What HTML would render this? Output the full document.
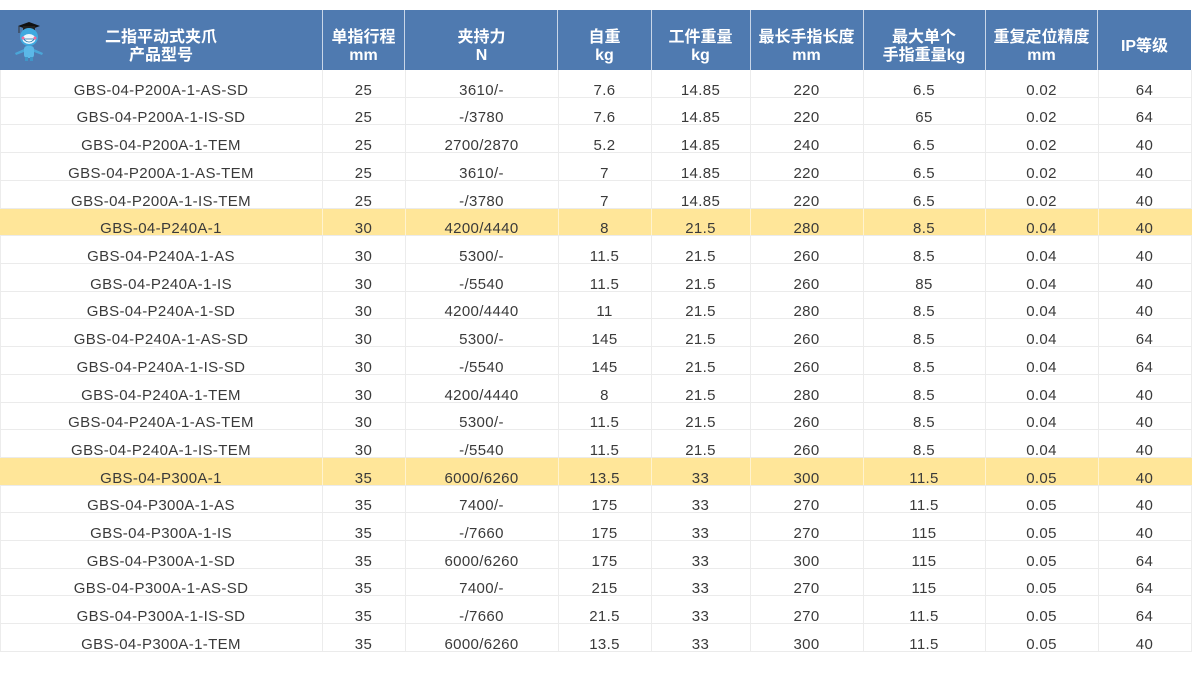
<!DOCTYPE html>
<html><head><meta charset="utf-8">
<style>
*{margin:0;padding:0;box-sizing:border-box}
html,body{width:1194px;height:685px;background:#fff;overflow:hidden}
body{position:relative;font-family:"Liberation Sans","Noto Sans CJK SC",sans-serif}
.hdr{position:absolute;top:10px;left:0;width:1191px;height:60px;background:#4f7ab0}
.hc{position:absolute;top:10px;height:60px;display:flex;align-items:center;justify-content:center;padding-top:14px;color:#fff;font-weight:700;font-size:16px;line-height:18px;text-align:center;font-family:"Liberation Sans","Noto Sans CJK SC",sans-serif}
.vl{position:absolute;width:1px}
.g{top:70px;height:582px;background:#ececec}
.hv{top:10px;height:60px;background:#c9d6e8}
.row{position:absolute;left:0;width:1192px;height:27.71px;border-bottom:1px solid #ebebeb}
.row.y{background:#ffe699}
.row.y i{position:absolute;top:0;height:100%;width:1px;background:#fff3cf}
.row span{position:absolute;bottom:-2px;line-height:16px;text-align:center;font-size:15px;color:#3a3a3a;letter-spacing:0.35px;white-space:nowrap}
.c0{left:0;width:322px}.c1{left:322px;width:83px}.c2{left:405px;width:153px}.c3{left:558px;width:93px}.c4{left:651px;width:99px}.c5{left:750px;width:113px}.c6{left:863px;width:122px}.c7{left:985px;width:113px}.c8{left:1098px;width:93px}
</style></head><body>
<div class="hdr"></div>
<div class="vl hv" style="left:322px"></div>
<div class="vl hv" style="left:404px"></div>
<div class="vl hv" style="left:557px"></div>
<div class="vl hv" style="left:651px"></div>
<div class="vl hv" style="left:750px"></div>
<div class="vl hv" style="left:863px"></div>
<div class="vl hv" style="left:985px"></div>
<div class="vl hv" style="left:1097px"></div>

<svg style="position:absolute;left:10px;top:20px" width="38" height="42" viewBox="0 0 38 42">
  <polygon points="8,6 19,2 30,6 19,10" fill="#111"/>
  <rect x="13" y="6" width="12" height="4" fill="#222"/>
  <line x1="9" y1="6" x2="9" y2="13" stroke="#333" stroke-width="1"/>
  <circle cx="19" cy="17" r="9" fill="#3fa9e0"/>
  <ellipse cx="19" cy="19" rx="6.5" ry="5" fill="#e8f6ff"/>
  <path d="M13.5 19 Q19 25 24.5 19 Z" fill="#fff" stroke="#1c6fa8" stroke-width="0.8"/>
  <circle cx="13" cy="18" r="1.5" fill="#f06a9a"/>
  <circle cx="25" cy="18" r="1.5" fill="#f06a9a"/>
  <rect x="14" y="26" width="10" height="12" rx="3" fill="#5bb8e8"/>
  <path d="M14 29 L5 33 L6 35 L14 32 Z" fill="#4aa6d8"/>
  <path d="M24 29 L33 33 L32 35 L24 32 Z" fill="#4aa6d8"/>
  <rect x="15" y="37" width="3" height="4" fill="#3f96c8"/>
  <rect x="20" y="37" width="3" height="4" fill="#3f96c8"/>
</svg>

<div class="hc" style="left:0;width:322px">二指平动式夹爪<br>产品型号</div>
<div class="hc" style="left:322px;width:83px">单指行程<br>mm</div>
<div class="hc" style="left:405px;width:153px">夹持力<br>N</div>
<div class="hc" style="left:558px;width:93px">自重<br>kg</div>
<div class="hc" style="left:651px;width:99px">工件重量<br>kg</div>
<div class="hc" style="left:750px;width:113px">最长手指长度<br>mm</div>
<div class="hc" style="left:863px;width:122px">最大单个<br>手指重量kg</div>
<div class="hc" style="left:985px;width:113px">重复定位精度<br>mm</div>
<div class="hc" style="left:1098px;width:93px">IP等级</div>

<div class="vl g" style="left:0"></div>
<div class="vl g" style="left:322px"></div>
<div class="vl g" style="left:405px"></div>
<div class="vl g" style="left:558px"></div>
<div class="vl g" style="left:651px"></div>
<div class="vl g" style="left:750px"></div>
<div class="vl g" style="left:863px"></div>
<div class="vl g" style="left:985px"></div>
<div class="vl g" style="left:1098px"></div>
<div class="vl g" style="left:1191px"></div>

<div class="row" style="top:70px"><span class="c0">GBS-04-P200A-1-AS-SD</span><span class="c1">25</span><span class="c2">3610/-</span><span class="c3">7.6</span><span class="c4">14.85</span><span class="c5">220</span><span class="c6">6.5</span><span class="c7">0.02</span><span class="c8">64</span></div>
<div class="row" style="top:97.71px"><span class="c0">GBS-04-P200A-1-IS-SD</span><span class="c1">25</span><span class="c2">-/3780</span><span class="c3">7.6</span><span class="c4">14.85</span><span class="c5">220</span><span class="c6">65</span><span class="c7">0.02</span><span class="c8">64</span></div>
<div class="row" style="top:125.42px"><span class="c0">GBS-04-P200A-1-TEM</span><span class="c1">25</span><span class="c2">2700/2870</span><span class="c3">5.2</span><span class="c4">14.85</span><span class="c5">240</span><span class="c6">6.5</span><span class="c7">0.02</span><span class="c8">40</span></div>
<div class="row" style="top:153.13px"><span class="c0">GBS-04-P200A-1-AS-TEM</span><span class="c1">25</span><span class="c2">3610/-</span><span class="c3">7</span><span class="c4">14.85</span><span class="c5">220</span><span class="c6">6.5</span><span class="c7">0.02</span><span class="c8">40</span></div>
<div class="row" style="top:180.84px"><span class="c0">GBS-04-P200A-1-IS-TEM</span><span class="c1">25</span><span class="c2">-/3780</span><span class="c3">7</span><span class="c4">14.85</span><span class="c5">220</span><span class="c6">6.5</span><span class="c7">0.02</span><span class="c8">40</span></div>
<div class="row y" style="top:208.55px"><i style="left:322px"></i><i style="left:405px"></i><i style="left:558px"></i><i style="left:651px"></i><i style="left:750px"></i><i style="left:863px"></i><i style="left:985px"></i><i style="left:1098px"></i><span class="c0">GBS-04-P240A-1</span><span class="c1">30</span><span class="c2">4200/4440</span><span class="c3">8</span><span class="c4">21.5</span><span class="c5">280</span><span class="c6">8.5</span><span class="c7">0.04</span><span class="c8">40</span></div>
<div class="row" style="top:236.26px"><span class="c0">GBS-04-P240A-1-AS</span><span class="c1">30</span><span class="c2">5300/-</span><span class="c3">11.5</span><span class="c4">21.5</span><span class="c5">260</span><span class="c6">8.5</span><span class="c7">0.04</span><span class="c8">40</span></div>
<div class="row" style="top:263.97px"><span class="c0">GBS-04-P240A-1-IS</span><span class="c1">30</span><span class="c2">-/5540</span><span class="c3">11.5</span><span class="c4">21.5</span><span class="c5">260</span><span class="c6">85</span><span class="c7">0.04</span><span class="c8">40</span></div>
<div class="row" style="top:291.68px"><span class="c0">GBS-04-P240A-1-SD</span><span class="c1">30</span><span class="c2">4200/4440</span><span class="c3">11</span><span class="c4">21.5</span><span class="c5">280</span><span class="c6">8.5</span><span class="c7">0.04</span><span class="c8">40</span></div>
<div class="row" style="top:319.39px"><span class="c0">GBS-04-P240A-1-AS-SD</span><span class="c1">30</span><span class="c2">5300/-</span><span class="c3">145</span><span class="c4">21.5</span><span class="c5">260</span><span class="c6">8.5</span><span class="c7">0.04</span><span class="c8">64</span></div>
<div class="row" style="top:347.10px"><span class="c0">GBS-04-P240A-1-IS-SD</span><span class="c1">30</span><span class="c2">-/5540</span><span class="c3">145</span><span class="c4">21.5</span><span class="c5">260</span><span class="c6">8.5</span><span class="c7">0.04</span><span class="c8">64</span></div>
<div class="row" style="top:374.81px"><span class="c0">GBS-04-P240A-1-TEM</span><span class="c1">30</span><span class="c2">4200/4440</span><span class="c3">8</span><span class="c4">21.5</span><span class="c5">280</span><span class="c6">8.5</span><span class="c7">0.04</span><span class="c8">40</span></div>
<div class="row" style="top:402.52px"><span class="c0">GBS-04-P240A-1-AS-TEM</span><span class="c1">30</span><span class="c2">5300/-</span><span class="c3">11.5</span><span class="c4">21.5</span><span class="c5">260</span><span class="c6">8.5</span><span class="c7">0.04</span><span class="c8">40</span></div>
<div class="row" style="top:430.23px"><span class="c0">GBS-04-P240A-1-IS-TEM</span><span class="c1">30</span><span class="c2">-/5540</span><span class="c3">11.5</span><span class="c4">21.5</span><span class="c5">260</span><span class="c6">8.5</span><span class="c7">0.04</span><span class="c8">40</span></div>
<div class="row y" style="top:457.94px"><i style="left:322px"></i><i style="left:405px"></i><i style="left:558px"></i><i style="left:651px"></i><i style="left:750px"></i><i style="left:863px"></i><i style="left:985px"></i><i style="left:1098px"></i><span class="c0">GBS-04-P300A-1</span><span class="c1">35</span><span class="c2">6000/6260</span><span class="c3">13.5</span><span class="c4">33</span><span class="c5">300</span><span class="c6">11.5</span><span class="c7">0.05</span><span class="c8">40</span></div>
<div class="row" style="top:485.65px"><span class="c0">GBS-04-P300A-1-AS</span><span class="c1">35</span><span class="c2">7400/-</span><span class="c3">175</span><span class="c4">33</span><span class="c5">270</span><span class="c6">11.5</span><span class="c7">0.05</span><span class="c8">40</span></div>
<div class="row" style="top:513.36px"><span class="c0">GBS-04-P300A-1-IS</span><span class="c1">35</span><span class="c2">-/7660</span><span class="c3">175</span><span class="c4">33</span><span class="c5">270</span><span class="c6">115</span><span class="c7">0.05</span><span class="c8">40</span></div>
<div class="row" style="top:541.07px"><span class="c0">GBS-04-P300A-1-SD</span><span class="c1">35</span><span class="c2">6000/6260</span><span class="c3">175</span><span class="c4">33</span><span class="c5">300</span><span class="c6">115</span><span class="c7">0.05</span><span class="c8">64</span></div>
<div class="row" style="top:568.78px"><span class="c0">GBS-04-P300A-1-AS-SD</span><span class="c1">35</span><span class="c2">7400/-</span><span class="c3">215</span><span class="c4">33</span><span class="c5">270</span><span class="c6">115</span><span class="c7">0.05</span><span class="c8">64</span></div>
<div class="row" style="top:596.49px"><span class="c0">GBS-04-P300A-1-IS-SD</span><span class="c1">35</span><span class="c2">-/7660</span><span class="c3">21.5</span><span class="c4">33</span><span class="c5">270</span><span class="c6">11.5</span><span class="c7">0.05</span><span class="c8">64</span></div>
<div class="row" style="top:624.20px"><span class="c0">GBS-04-P300A-1-TEM</span><span class="c1">35</span><span class="c2">6000/6260</span><span class="c3">13.5</span><span class="c4">33</span><span class="c5">300</span><span class="c6">11.5</span><span class="c7">0.05</span><span class="c8">40</span></div>
</body></html>
